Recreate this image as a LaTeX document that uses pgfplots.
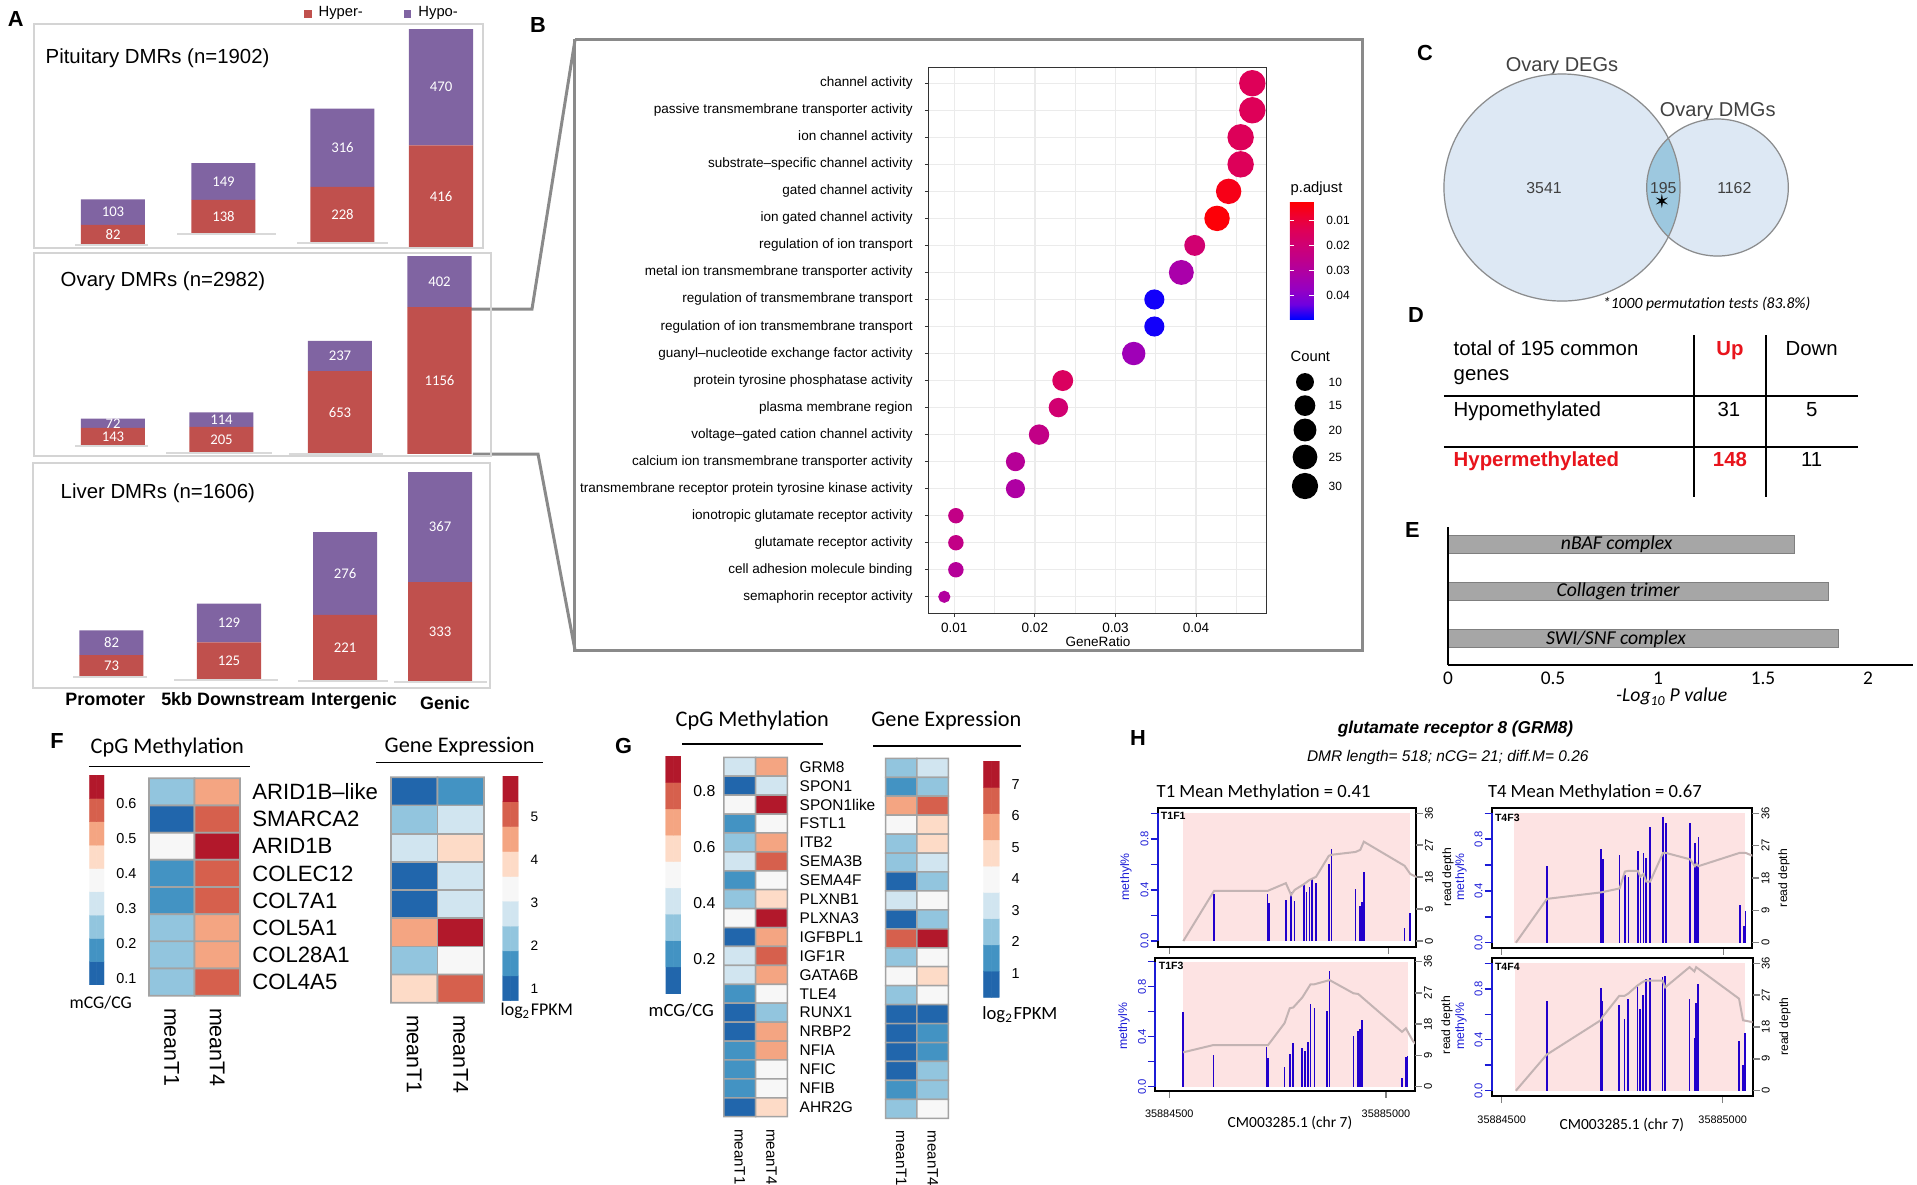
\documentclass[border=0pt]{standalone}
\usepackage{fontspec}
\setmainfont{Liberation Sans}
\newfontfamily\calfont{Carlito}
\newfontfamily\djv{DejaVu Sans}
\usepackage{pgfplots}
\usepackage{pgfplotstable}
\pgfplotsset{compat=1.18}
\newcommand\fs[1]{\fontsize{#1}{#1}\selectfont}

\definecolor{hyper}{HTML}{C0504D}
\definecolor{hypo}{HTML}{8064A2}
\definecolor{aframe}{HTML}{D4D4D4}
\definecolor{abase}{HTML}{D9D9D9}
\definecolor{bframe}{HTML}{8A8A8A}
\definecolor{gridc}{HTML}{EBEBEB}
\definecolor{venngray}{HTML}{8C8C8C}
\definecolor{vennfill}{HTML}{DDE8F4}
\definecolor{lensfill}{HTML}{9DC8DF}
\definecolor{venntext}{HTML}{404040}
\definecolor{tred}{HTML}{E8141C}
\definecolor{barg}{HTML}{A6A6A6}
\definecolor{baredge}{HTML}{7F7F7F}
\definecolor{cellgray}{HTML}{A3A3A3}
\definecolor{hblue}{HTML}{2200CC}
\definecolor{axblue}{HTML}{1C1CD6}
\definecolor{hpink}{HTML}{FDE3E3}
\definecolor{hdepth}{HTML}{C3B3B3}

\tikzset{slab/.style={anchor=west, font=\bfseries\fs{3.0}, inner sep=0pt}}

\pgfplotsset{
  colormap={padj}{rgb255=(255,0,0) rgb255=(239,0,48) rgb255=(222,0,88) rgb255=(207,0,116)
    rgb255=(190,0,140) rgb255=(171,0,168) rgb255=(149,0,195) rgb255=(112,0,223) rgb255=(0,0,255)},
  colormap={rdbu}{rgb255=(33,102,172) rgb255=(67,147,195) rgb255=(146,197,222)
    rgb255=(209,229,240) rgb255=(247,247,247) rgb255=(253,219,199) rgb255=(244,165,130)
    rgb255=(214,96,77) rgb255=(178,24,43)},
  canvas/.style={at={(0mm,0mm)}, anchor=north west, scale only axis, width=191.7mm, height=118.4mm,
    xmin=0, xmax=1917, ymin=0, ymax=1184, y dir=reverse, hide axis, clip=false,
    /tikz/every node/.append style={inner sep=0pt}},
  abar/.style={anchor=north west, scale only axis, ybar stacked, bar width=64,
    xtick=\empty, ytick=\empty, axis line style={draw=aframe, line width=0.2mm}, axis on top},
  alab/.style={anchor=north west, scale only axis, hide axis, clip=false},
  nnc/.style={draw=none, mark=none, nodes near coords, point meta=explicit symbolic,
    nodes near coords style={anchor=center, text=white, font=\calfont\fs{4.2}, inner sep=0pt}},
  abl/.style={abase, line width=0.13mm},
  hm/.style={anchor=north west, scale only axis, y dir=reverse, axis line style={draw=none},
    major tick length=0pt, colormap name=rdbu, colormap access=piecewise constant,
    xmin=-0.5, xmax=1.5, ymin=0.5, clip=false, xtick={0,1}, xticklabels={meanT1,meanT4},
    xticklabel style={rotate=-90, anchor=west}, ytick=\empty},
  cb/.style={anchor=north west, scale only axis, y dir=reverse, axis line style={draw=none},
    major tick length=0pt, colormap name=rdbu, colormap access=piecewise constant,
    xmin=-0.5, xmax=1.5, xtick=\empty, yticklabel pos=right},
  cell/.style={matrix plot, mesh/cols=2, point meta=explicit, shader=faceted,
    faceted color=cellgray, line width=0.17mm},
  cbcell/.style={matrix plot, mesh/cols=2, point meta=explicit, shader=faceted,
    faceted color=mapped color, line width=0.05mm},
  hbase/.style={anchor=north west, scale only axis, clip mode=individual, tick align=outside,
    major tick length=0.7mm, tick style={line width=0.15mm}, ticklabel style={font=\fs{3.2}},
    yticklabel style={inner sep=0.4pt}},
  hmeth/.style={hbase, axis line style={line width=0.2mm}, xtick={0,500}, xtick pos=bottom,
    ytick pos=left, ytick={0,0.2,0.4,0.6,0.8,1}, yticklabels={0.0,,0.4,,0.8,},
    ytick style={axblue}, yticklabel style={rotate=90, anchor=south, text=axblue},
    xticklabel style={font=\fs{3.1}}},
  hdep/.style={hbase, axis line style={draw=none}, xtick=\empty, ytick pos=right,
    yticklabel pos=right, ytick={0,9,18,27,36}, yticklabels={0,9,18,27,36},
    yticklabel style={rotate=90, anchor=north}},
}

% ---------------- data
\pgfplotstableread{
x off red pur
113 12 82 103
223.5 57 138 149
342.5 20 228 316
441 0 416 470
}\pit
\pgfplotstableread{
x off red pur
113 79 143 72
221.5 24 205 114
340 16 653 237
439.5 16 1156 402
}\ova
\pgfplotstableread{
x off red pur
111.5 37 73 82
229 27 125 129
345 23 221 276
440 20 333 367
}\liv

\pgfplotstableread{
row gr d p
1 0.04699 25 0.0139
2 0.04699 25 0.0139
3 0.04554 25 0.0142
4 0.04554 25 0.0142
5 0.04405 24 0.0050
6 0.04261 24 0.0030
7 0.03984 19.5 0.0192
8 0.03818 23.5 0.0320
9 0.03483 18.7 0.0484
10 0.03483 18.7 0.0484
11 0.03227 22 0.0349
12 0.02346 19.5 0.0154
13 0.02292 18 0.0192
14 0.02052 19 0.0243
15 0.01759 17.7 0.0281
16 0.01759 17.7 0.0305
17 0.0102 14 0.0243
18 0.0102 14 0.0243
19 0.0102 14 0.0285
20 0.00876 10.7 0.0295
}\godata
\pgfplotstableread{
x y d c
1305 382 16.5 10
1305 405.6 19.3 15
1305 430 21.5 20
1305 457 23.3 25
1305 486 24.8 30
}\cntleg

\pgfplotstableread{
x y v
0 1 0.25
1 1 0.52
0 2 0.11
1 2 0.58
0 3 0.38
1 3 0.65
0 4 0.18
1 4 0.58
0 5 0.18
1 5 0.57
0 6 0.24
1 6 0.53
0 7 0.25
1 7 0.51
0 8 0.24
1 8 0.59
}\Fm
\pgfplotstableread{
x y v
0 1 1.0
1 1 1.6
0 2 2.1
1 2 2.8
0 3 2.7
1 3 3.9
0 4 0.95
1 4 2.75
0 5 0.9
1 5 2.8
0 6 4.5
1 6 5.7
0 7 2.2
1 7 3.3
0 8 3.9
1 8 5.1
}\Fe
\pgfplotstableread{
x y v
0 1 0.41
1 1 0.69
0 2 0.13
1 2 0.40
0 3 0.50
1 3 0.88
0 4 0.22
1 4 0.50
0 5 0.31
1 5 0.68
0 6 0.41
1 6 0.78
0 7 0.22
1 7 0.49
0 8 0.32
1 8 0.60
0 9 0.51
1 9 0.87
0 10 0.12
1 10 0.69
0 11 0.40
1 11 0.79
0 12 0.41
1 12 0.70
0 13 0.23
1 13 0.50
0 14 0.12
1 14 0.31
0 15 0.13
1 15 0.68
0 16 0.22
1 16 0.69
0 17 0.21
1 17 0.50
0 18 0.22
1 18 0.51
0 19 0.12
1 19 0.59
}\Gm
\pgfplotstableread{
x y v
0 1 2.3
1 1 3.1
0 2 1.5
1 2 2.3
0 3 5.7
1 3 6.5
0 4 4.0
1 4 4.8
0 5 2.3
1 5 4.8
0 6 2.4
1 6 3.2
0 7 0.7
1 7 2.3
0 8 3.1
1 8 4.0
0 9 0.6
1 9 2.4
0 10 6.5
1 10 7.3
0 11 2.3
1 11 4.0
0 12 3.9
1 12 4.8
0 13 2.3
1 13 4.0
0 14 0.6
1 14 0.7
0 15 0.7
1 15 1.5
0 16 0.6
1 16 1.5
0 17 0.7
1 17 2.3
0 18 1.5
1 18 2.3
0 19 2.3
1 19 4.0
}\Ge
% colour keys: bin centres v, drawn at y = -v on a reversed axis (high values on top)
\pgfplotstableread{
x y v
0 -0.1143 0.1143
1 -0.1143 0.1143
0 -0.1810 0.1810
1 -0.1810 0.1810
0 -0.2477 0.2477
1 -0.2477 0.2477
0 -0.3143 0.3143
1 -0.3143 0.3143
0 -0.3810 0.3810
1 -0.3810 0.3810
0 -0.4477 0.4477
1 -0.4477 0.4477
0 -0.5143 0.5143
1 -0.5143 0.5143
0 -0.5810 0.5810
1 -0.5810 0.5810
0 -0.6477 0.6477
1 -0.6477 0.6477
}\cbFm
\pgfplotstableread{
x y v
0 -1.001 1.001
1 -1.001 1.001
0 -1.583 1.583
1 -1.583 1.583
0 -2.165 2.165
1 -2.165 2.165
0 -2.748 2.748
1 -2.748 2.748
0 -3.330 3.330
1 -3.330 3.330
0 -3.912 3.912
1 -3.912 3.912
0 -4.494 4.494
1 -4.494 4.494
0 -5.077 5.077
1 -5.077 5.077
0 -5.659 5.659
1 -5.659 5.659
}\cbFe
\pgfplotstableread{
x y v
0 -0.1259 0.1259
1 -0.1259 0.1259
0 -0.2197 0.2197
1 -0.2197 0.2197
0 -0.3136 0.3136
1 -0.3136 0.3136
0 -0.4074 0.4074
1 -0.4074 0.4074
0 -0.5012 0.5012
1 -0.5012 0.5012
0 -0.5951 0.5951
1 -0.5951 0.5951
0 -0.6889 0.6889
1 -0.6889 0.6889
0 -0.7827 0.7827
1 -0.7827 0.7827
0 -0.8766 0.8766
1 -0.8766 0.8766
}\cbGm
\pgfplotstableread{
x y v
0 -0.6548 0.6548
1 -0.6548 0.6548
0 -1.4884 1.4884
1 -1.4884 1.4884
0 -2.3220 2.3220
1 -2.3220 2.3220
0 -3.1556 3.1556
1 -3.1556 3.1556
0 -3.9892 3.9892
1 -3.9892 3.9892
0 -4.8228 4.8228
1 -4.8228 4.8228
0 -5.6564 5.6564
1 -5.6564 5.6564
0 -6.4900 6.4900
1 -6.4900 6.4900
0 -7.3236 7.3236
1 -7.3236 7.3236
}\cbGe

\pgfplotstableread{
pos m11 m13 m43 m44
32 nan 0.595 nan nan
102 0.368 0.253 0.593 0.704
224 0.366 0.320 0.722 0.804
228 0.295 0.232 0.647 0.704
266 0.321 0.155 0.675 0.673
278 0.386 0.261 0.523 0.560
286 0.313 0.347 0.510 0.720
307 0.439 0.307 0.709 0.830
313 0.386 0.288 0.510 0.639
320 0.426 0.360 0.691 0.749
326 0.491 0.661 0.657 0.877
335 0.452 0.629 0.892 0.882
364 0.600 0.608 0.969 0.895
370 0.718 0.928 0.928 0.903
425 0.407 0.405 0.923 0.720
436 0.277 0.445 0.773 0.411
440 0.305 0.459 0.590 0.691
444 0.543 0.533 0.820 0.835
537 0.099 0.067 0.289 0.390
546 nan 0.240 0.129 0.200
550 0.217 0.248 0.247 0.455
}\hmeth
\pgfplotstableread{
pos d
32 0
102 14.1
224 14.1
266 16.3
278 13.0
286 14.4
307 16.0
320 17.2
335 18.1
364 24.0
370 24.3
425 25.1
436 25.7
444 28.0
537 21.2
550 18.9
590 16.5
}\dA
\pgfplotstableread{
pos d
32 9.9
102 12.0
228 12.0
266 18.3
278 22.6
286 22.8
307 25.7
326 29.5
335 29.5
370 30.7
425 26.9
436 26.7
537 15.8
546 16.8
563 13.0
580 11.0
}\dB
\pgfplotstableread{
pos d
32 0
102 12.2
224 14.0
266 15.1
278 19.8
286 20.0
307 20.0
313 18.4
320 19.1
326 17.0
335 17.0
364 25.0
370 25.0
425 23.2
436 21.3
440 22.0
444 21.3
537 25.0
550 25.0
580 23.5
}\dC
\pgfplotstableread{
pos d
32 0
102 10.2
224 19.9
228 20.8
266 26.8
278 26.8
286 27.4
307 29.7
320 30.8
326 31.1
364 31.1
370 29.2
425 34.9
436 33.7
440 34.9
537 26.0
546 19.9
570 19.3
580 19.0
}\dD

\begin{document}
\begin{tikzpicture}[x=0.1mm,y=-0.1mm]

%% ================= canvas: labels, table, frames (pixel coordinates, y down)
\begin{axis}[canvas]
  % panel letters
  \node[font=\bfseries\fs{6.2}] at (15.8,19.2) {A};
  \node[font=\bfseries\fs{6.2}] at (538,24.5) {B};
  \node[font=\bfseries\fs{6.2}] at (1425,53.3) {C};
  \node[font=\bfseries\fs{6.2}] at (1416,314.7) {D};
  \node[font=\bfseries\fs{6.2}] at (1412.5,530) {E};
  \node[font=\bfseries\fs{6.2}] at (57,741) {F};
  \node[font=\bfseries\fs{6.2}] at (623.5,746) {G};
  \node[font=\bfseries\fs{6.2}] at (1138,738.3) {H};

  % A texts
  \node[anchor=base west, font=\fs{5.8}] at (45,63) {Pituitary DMRs (n=1902)};
  \node[anchor=base west, font=\fs{5.8}] at (60,286.7) {Ovary DMRs (n=2982)};
  \node[anchor=base west, font=\fs{5.8}] at (60,498.3) {Liver DMRs (n=1606)};
  \node[anchor=base, font=\bfseries\fs{5.1}] at (105.3,705) {Promoter};
  \node[anchor=base, font=\bfseries\fs{5.1}] at (233,705) {5kb Downstream};
  \node[anchor=base, font=\bfseries\fs{5.1}] at (354,705) {Intergenic};
  \node[anchor=base, font=\bfseries\fs{5.1}] at (445,709) {Genic};

  % A -> B connectors and B frame
  \addplot[bframe, line width=0.3mm] coordinates {(470,309) (532,309) (575,40)};
  \addplot[bframe, line width=0.3mm] coordinates {(473,454) (538,454) (575,650)};
  \addplot[bframe, line width=0.3mm, line join=miter] coordinates {(575,39) (1363,39) (1363,650) (575,650) (575,39)};

  % B legend texts
  \node[anchor=base west, font=\fs{4.2}] at (1290,192) {p.adjust};
  \node[anchor=base west, font=\fs{4.2}] at (1290,361) {Count};
  \addplot[scatter, only marks, mark=*, point meta=explicit,
    scatter/use mapped color={draw=black, fill=black},
    visualization depends on={\thisrow{d}\as\dsize},
    scatter/@pre marker code/.append style={/tikz/mark size={\dsize*0.05mm}}]
    table[x=x, y=y, meta=c] {\cntleg};
  \node[anchor=west, font=\fs{3.4}] at (1328,382) {10};
  \node[anchor=west, font=\fs{3.4}] at (1328,405.6) {15};
  \node[anchor=west, font=\fs{3.4}] at (1328,430) {20};
  \node[anchor=west, font=\fs{3.4}] at (1328,457) {25};
  \node[anchor=west, font=\fs{3.4}] at (1328,486) {30};
  \node[anchor=base, font=\fs{3.85}] at (1098,646.7) {GeneRatio};

  % C Venn: filled sets
  \addplot[only marks, mark=*, mark size=11.35mm,
    mark options={xscale=1.04, fill=vennfill, draw=vennfill}] coordinates {(1562,187.5)};
  \addplot[only marks, mark=*, mark size=6.85mm,
    mark options={xscale=1.034, fill=vennfill, draw=vennfill}] coordinates {(1717.5,187.5)};
  \node[anchor=base, font=\fs{5.7}, text=venntext] at (1562,71.7) {Ovary DEGs};
  \node[anchor=base, font=\fs{5.7}, text=venntext] at (1717.7,116.7) {Ovary DMGs};
  \node[anchor=base, font=\calfont\itshape\fs{4.45}] at (1706.7,308.3) {*1000 permutation tests (83.8\%)};

  % D table
  \addplot[black, line width=0.2mm] coordinates {(1694.3,335) (1694.3,497)};
  \addplot[black, line width=0.2mm] coordinates {(1766,335) (1766,497)};
  \addplot[black, line width=0.2mm] coordinates {(1444,395.7) (1857.7,395.7)};
  \addplot[black, line width=0.2mm] coordinates {(1444,446.7) (1857.7,446.7)};
  \node[anchor=base west, font=\fs{5.8}] at (1453,355) {total of 195 common};
  \node[anchor=base west, font=\fs{5.8}] at (1453,380) {genes};
  \node[anchor=base, font=\bfseries\fs{5.8}, text=tred] at (1730,355) {Up};
  \node[anchor=base, font=\fs{5.8}] at (1811.7,355) {Down};
  \node[anchor=base west, font=\fs{5.8}] at (1453,416) {Hypomethylated};
  \node[anchor=base, font=\fs{5.8}] at (1729,416) {31};
  \node[anchor=base, font=\fs{5.8}] at (1811.7,416) {5};
  \node[anchor=base west, font=\bfseries\fs{5.8}, text=tred] at (1453,466.7) {Hypermethylated};
  \node[anchor=base, font=\bfseries\fs{5.8}, text=tred] at (1730,466.7) {148};
  \node[anchor=base, font=\fs{5.8}] at (1811.7,466.7) {11};

  % E axis title
  \node[anchor=base, font=\calfont\itshape\fs{5.6}] at (1671.7,701.7) {-Log\textsubscript{10}\,P value};

  % F, G headers
  \node[anchor=base west, font=\calfont\fs{6.35}] at (90,753) {CpG Methylation};
  \addplot[black, line width=0.15mm] coordinates {(89,766.7) (250,766.7)};
  \node[anchor=base west, font=\calfont\fs{6.35}] at (384,752.7) {Gene Expression};
  \addplot[black, line width=0.15mm] coordinates {(376,762.7) (543,762.7)};
  \node[anchor=base west, font=\calfont\fs{5.05}] at (69,1008.3) {mCG/CG};
  \node[anchor=base west, font=\calfont\fs{5.1}] at (500,1015) {log\textsubscript{2}FPKM};
  \node[anchor=base west, font=\calfont\fs{6.35}] at (675,726) {CpG Methylation};
  \addplot[black, line width=0.15mm] coordinates {(682.3,744) (823.3,744)};
  \node[anchor=base west, font=\calfont\fs{6.35}] at (870.7,726) {Gene Expression};
  \addplot[black, line width=0.15mm] coordinates {(873.3,746) (1021,746)};
  \node[anchor=base west, font=\calfont\fs{5.3}] at (648,1016.7) {mCG/CG};
  \node[anchor=base west, font=\calfont\fs{5.3}] at (981.7,1019.3) {log\textsubscript{2}FPKM};

  % H texts
  \node[anchor=base, font=\bfseries\itshape\fs{4.9}] at (1455.5,733.3) {glutamate receptor 8 (GRM8)};
  \node[anchor=base, font=\itshape\fs{4.4}] at (1447.8,761) {DMR length= 518; nCG= 21; diff.M= 0.26};
  \node[anchor=base west, font=\calfont\fs{5.3}] at (1156,797.3) {T1 Mean Methylation = 0.41};
  \node[anchor=base west, font=\calfont\fs{5.3}] at (1487.3,797.3) {T4 Mean Methylation = 0.67};
  \node[rotate=90, font=\fs{3.5}, text=axblue] at (1126,876.7) {methyl\%};
  \node[rotate=90, font=\fs{3.5}, text=axblue] at (1124,1026) {methyl\%};
  \node[rotate=90, font=\fs{3.5}, text=axblue] at (1461,876.7) {methyl\%};
  \node[rotate=90, font=\fs{3.5}, text=axblue] at (1461,1026) {methyl\%};
  \node[rotate=90, font=\fs{3.45}] at (1448,877) {read depth};
  \node[rotate=90, font=\fs{3.45}] at (1447,1025) {read depth};
  \node[rotate=90, font=\fs{3.45}] at (1784,878) {read depth};
  \node[rotate=90, font=\fs{3.45}] at (1785,1026.7) {read depth};
  \node[anchor=base, font=\calfont\fs{4.4}] at (1290,1127.3) {CM003285.1 (chr 7)};
  \node[anchor=base, font=\calfont\fs{4.4}] at (1621.8,1129.3) {CM003285.1 (chr 7)};
\end{axis}

% Venn overlap (lens) on top of the two filled sets
\begin{scope}
  \clip (1562,187.5) ellipse [x radius=118, y radius=113.5];
  \fill[lensfill] (1717.5,187.5) ellipse [x radius=70.8, y radius=68.5];
\end{scope}
\begin{axis}[canvas]
  \addplot[only marks, mark=o, mark size=11.35mm,
    mark options={xscale=1.04, draw=venngray, line width=0.12mm}] coordinates {(1562,187.5)};
  \addplot[only marks, mark=o, mark size=6.85mm,
    mark options={xscale=1.034, draw=venngray, line width=0.12mm}] coordinates {(1717.5,187.5)};
  \node[anchor=base, font=\fs{4.5}, text=venntext] at (1544,193.3) {3541};
  \node[anchor=base, font=\fs{4.5}, text=venntext] at (1663.3,193.3) {195};
  \node[anchor=base, font=\fs{4.5}, text=venntext] at (1734.3,193.3) {1162};
  \node[font=\djv\fs{5.5}] at (1662,201) {✶};
\end{axis}

%% ================= A: stacked bars
\begin{axis}[abar, at={(3.4mm,-2.4mm)}, width=44.9mm, height=22.4mm, xmin=34, xmax=483, ymin=0, ymax=907,
  legend columns=2,
  legend style={at={(0.6,1.115)}, anchor=north west, draw=none, fill=none, font=\fs{4.2},
    inner sep=0pt, /tikz/every even column/.append style={column sep=3.4mm}},
  legend image code/.code={\fill[#1] (0mm,-0.4mm) rectangle (0.75mm,0.4mm);}]
  \addplot[draw=none, fill=none, forget plot] table[x=x, y=off] {\pit};
  \addplot[fill=hyper, draw=none] table[x=x, y=red] {\pit};
  \addlegendentry{Hyper-}
  \addplot[fill=hypo, draw=none] table[x=x, y=pur] {\pit};
  \addlegendentry{Hypo-}
\end{axis}
\begin{axis}[alab, at={(3.4mm,-2.4mm)}, width=44.9mm, height=22.4mm, xmin=34, xmax=483, ymin=0, ymax=907]
  \addplot[abl] coordinates {(75,12) (148,12)};
  \addplot[abl] coordinates {(177,57) (276,57)};
  \addplot[abl] coordinates {(297,20) (388,20)};
  \addplot[nnc] table[x=x, y expr=\thisrow{off}+0.5*\thisrow{red}, meta=red] {\pit};
  \addplot[nnc] table[x=x, y expr=\thisrow{off}+\thisrow{red}+0.5*\thisrow{pur}, meta=pur] {\pit};
\end{axis}

\begin{axis}[abar, at={(3.4mm,-25.3mm)}, width=45.7mm, height=20.3mm, xmin=34, xmax=491, ymin=0, ymax=1598]
  \addplot[draw=none, fill=none] table[x=x, y=off] {\ova};
  \addplot[fill=hyper, draw=none] table[x=x, y=red] {\ova};
  \addplot[fill=hypo, draw=none] table[x=x, y=pur] {\ova};
\end{axis}
\begin{axis}[alab, at={(3.4mm,-25.3mm)}, width=45.7mm, height=20.3mm, xmin=34, xmax=491, ymin=0, ymax=1598]
  \addplot[abl] coordinates {(75,79) (148,79)};
  \addplot[abl] coordinates {(166,24) (272,24)};
  \addplot[abl] coordinates {(289,16) (383,16)};
  \addplot[nnc] table[x=x, y expr=\thisrow{off}+0.5*\thisrow{red}, meta=red] {\ova};
  \addplot[nnc] table[x=x, y expr=\thisrow{off}+\thisrow{red}+0.5*\thisrow{pur}, meta=pur] {\ova};
\end{axis}

\begin{axis}[abar, at={(3.3mm,-46.3mm)}, width=45.7mm, height=22.5mm, xmin=33, xmax=490, ymin=0, ymax=750]
  \addplot[draw=none, fill=none] table[x=x, y=off] {\liv};
  \addplot[fill=hyper, draw=none] table[x=x, y=red] {\liv};
  \addplot[fill=hypo, draw=none] table[x=x, y=pur] {\liv};
\end{axis}
\begin{axis}[alab, at={(3.3mm,-46.3mm)}, width=45.7mm, height=22.5mm, xmin=33, xmax=490, ymin=0, ymax=750]
  \addplot[abl] coordinates {(73,37) (147,37)};
  \addplot[abl] coordinates {(174,27) (278,27)};
  \addplot[abl] coordinates {(298,23) (388,23)};
  \addplot[abl] coordinates {(394,20) (487,20)};
  \addplot[nnc] table[x=x, y expr=\thisrow{off}+0.5*\thisrow{red}, meta=red] {\liv};
  \addplot[nnc] table[x=x, y expr=\thisrow{off}+\thisrow{red}+0.5*\thisrow{pur}, meta=pur] {\liv};
\end{axis}

%% ================= B: GO dot plot
\begin{axis}[anchor=north west, at={(92.9mm,-6.7mm)}, scale only axis, width=33.8mm, height=54.6mm,
  xmin=0.00686, xmax=0.04881, ymin=0.4, ymax=20.6, y dir=reverse,
  xtick={0.01,0.02,0.03,0.04}, xticklabels={0.01,0.02,0.03,0.04}, scaled x ticks=false,
  minor xtick={0.015,0.025,0.035,0.045},
  ytick={1,...,20},
  yticklabels={channel activity, passive transmembrane transporter activity, ion channel activity,
    substrate–specific channel activity, gated channel activity, ion gated channel activity,
    regulation of ion transport, metal ion transmembrane transporter activity,
    regulation of transmembrane transport, regulation of ion transmembrane transport,
    guanyl–nucleotide exchange factor activity, protein tyrosine phosphatase activity,
    plasma membrane region, voltage–gated cation channel activity,
    calcium ion transmembrane transporter activity,
    transmembrane receptor protein tyrosine kinase activity,
    ionotropic glutamate receptor activity, glutamate receptor activity,
    cell adhesion molecule binding, semaphorin receptor activity},
  grid=both, major grid style={gridc, line width=0.13mm}, minor grid style={gridc, line width=0.07mm},
  xtick pos=bottom, ytick pos=left, tick align=outside, major tick length=0.4mm, minor tick length=0pt,
  tick style={black!80, line width=0.1mm}, axis line style={black!80, line width=0.1mm},
  ticklabel style={font=\fs{3.85}}, xticklabel style={yshift=0.6mm},
  colormap name=padj, point meta min=0.00216, point meta max=0.0493,
  colorbar,
  colorbar style={at={(parent axis.north east)}, anchor=north west, xshift=-0.7mm, yshift=-13.4mm,
    scale only axis, width=2.4mm, height=11.8mm, y dir=reverse, scaled y ticks=false,
    ytick={0.01,0.02,0.03,0.04}, yticklabels={0.01,0.02,0.03,0.04},
    yticklabel style={font=\fs{3.4}}, axis line style={draw=none},
    tick align=inside, major tick length=0.45mm, ytick style={white, line width=0.12mm}}]
  \addplot[scatter, only marks, mark=*, point meta=explicit,
    scatter/use mapped color={draw=mapped color, fill=mapped color},
    visualization depends on={\thisrow{d}\as\dsize},
    scatter/@pre marker code/.append style={/tikz/mark size={\dsize*0.05mm}}]
    table[x=gr, y=row, meta=p] {\godata};
\end{axis}

%% ================= E: enrichment bars
\begin{axis}[anchor=north west, at={(144.8mm,-52.7mm)}, scale only axis, width=46.5mm, height=13.8mm,
  xmin=0, xmax=2.214, ymin=0.445, ymax=3.371, xbar, bar width=1.77mm,
  axis x line*=bottom, axis y line*=left, axis line style={black, line width=0.22mm},
  ytick=\empty, xtick={0,0.5,1,1.5,2}, xticklabels={0,0.5,1,1.5,2}, major tick length=0pt,
  xticklabel style={font=\calfont\fs{5.5}, yshift=0.5mm}, axis on top, clip=false]
  \addplot[fill=barg, draw=baredge, line width=0.1mm] coordinates {(1.65,3) (1.81,2) (1.86,1)};
  \node[font=\calfont\itshape\fs{5.6}] at (axis cs:0.803,3) {nBAF complex};
  \node[font=\calfont\itshape\fs{5.6}] at (axis cs:0.81,2) {Collagen trimer};
  \node[font=\calfont\itshape\fs{5.6}] at (axis cs:0.8,1) {SWI/SNF complex};
\end{axis}

%% ================= F: heatmaps
\begin{axis}[hm, at={(14.9mm,-77.83mm)}, width=9.1mm, height=21.74mm, ymax=8.5,
  point meta min=0.081, point meta max=0.681,
  ytick={1,...,8}, yticklabels={ARID1B–like,SMARCA2,ARID1B,COLEC12,COL7A1,COL5A1,COL28A1,COL4A5},
  yticklabel pos=right, yticklabel style={font=\fs{6.3}}, xticklabel style={font=\fs{6.1}}]
  \addplot[cell] table[meta=v] {\Fm};
\end{axis}
\begin{axis}[cb, at={(8.93mm,-77.5mm)}, width=1.47mm, height=21mm, ymin=-0.681, ymax=-0.081,
  point meta min=0.081, point meta max=0.681,
  ytick={-0.6,-0.5,-0.4,-0.3,-0.2,-0.1}, yticklabels={0.6,0.5,0.4,0.3,0.2,0.1},
  yticklabel style={font=\fs{4.1}}]
  \addplot[cbcell] table[meta=v] {\cbFm};
\end{axis}
\begin{axis}[hm, at={(39.1mm,-77.73mm)}, width=9.3mm, height=22.54mm, ymax=8.5,
  point meta min=0.71, point meta max=5.95, xticklabel style={font=\fs{6.1}}]
  \addplot[cell] table[meta=v] {\Fe};
\end{axis}
\begin{axis}[cb, at={(50.27mm,-77.67mm)}, width=1.56mm, height=22.4mm, ymin=-5.95, ymax=-0.71,
  point meta min=0.71, point meta max=5.95,
  ytick={-5,-4,-3,-2,-1}, yticklabels={5,4,3,2,1}, yticklabel style={font=\fs{3.9}}]
  \addplot[cbcell] table[meta=v] {\cbFe};
\end{axis}

%% ================= G: heatmaps
\begin{axis}[hm, at={(72.4mm,-75.73mm)}, width=6.33mm, height=35.94mm, ymax=19.5,
  point meta min=0.079, point meta max=0.9235,
  ytick={1,...,19}, yticklabels={GRM8,SPON1,SPON1like,FSTL1,ITB2,SEMA3B,SEMA4F,PLXNB1,PLXNA3,
    IGFBPL1,IGF1R,GATA6B,TLE4,RUNX1,NRBP2,NFIA,NFIC,NFIB,AHR2G},
  yticklabel pos=right, yticklabel style={font=\fs{4.4}}, xticklabel style={font=\fs{4.3}}]
  \addplot[cell, line width=0.15mm] table[meta=v] {\Gm};
\end{axis}
\begin{axis}[cb, at={(66.57mm,-75.6mm)}, width=1.53mm, height=23.73mm, ymin=-0.9235, ymax=-0.079,
  point meta min=0.079, point meta max=0.9235,
  ytick={-0.8,-0.6,-0.4,-0.2}, yticklabels={0.8,0.6,0.4,0.2}, yticklabel style={font=\fs{4.5}}]
  \addplot[cbcell] table[meta=v] {\cbGm};
\end{axis}
\begin{axis}[hm, at={(88.57mm,-75.83mm)}, width=6.26mm, height=36mm, ymax=19.5,
  point meta min=0.238, point meta max=7.74, xticklabel style={font=\fs{4.3}}]
  \addplot[cell, line width=0.15mm] table[meta=v] {\Ge};
\end{axis}
\begin{axis}[cb, at={(98.33mm,-76.1mm)}, width=1.6mm, height=23.63mm, ymin=-7.74, ymax=-0.238,
  point meta min=0.238, point meta max=7.74,
  ytick={-7,-6,-5,-4,-3,-2,-1}, yticklabels={7,6,5,4,3,2,1}, yticklabel style={font=\fs{4.1}}]
  \addplot[cbcell] table[meta=v] {\cbGe};
\end{axis}

%% ================= H: methylation tracks
% T1F1
\begin{axis}[hmeth, at={(115.77mm,-80.83mm)}, width=25.83mm, height=13.84mm,
  xmin=-26.5, xmax=563, ymin=-0.0446, ymax=1.039, xticklabels={,}]
  \addplot[fill=hpink, draw=none] coordinates {(32,0) (550,0) (550,1) (32,1)};
  \addplot[ycomb, hblue, line width=0.17mm] table[x=pos, y=m11] {\hmeth};
  \draw[axblue, line width=0.2mm] (axis cs:-26.5,0) -- (axis cs:-26.5,1);
  \node[slab] at (rel axis cs:0.01,0.947) {T1F1};
\end{axis}
\begin{axis}[hdep, at={(115.77mm,-80.83mm)}, width=25.83mm, height=13.84mm,
  xmin=-26.5, xmax=563, ymin=-1.606, ymax=37.40]
  \addplot[hdepth, line width=0.2mm] table[x=pos, y=d] {\dA};
\end{axis}
% T1F3
\begin{axis}[hmeth, at={(115.5mm,-95.83mm)}, width=26.0mm, height=13.24mm,
  xmin=-33, xmax=567, ymin=-0.032, ymax=1.027, xticklabels={35884500,35885000}]
  \addplot[fill=hpink, draw=none] coordinates {(32,0) (550,0) (550,1) (32,1)};
  \addplot[ycomb, hblue, line width=0.17mm] table[x=pos, y=m13] {\hmeth};
  \draw[axblue, line width=0.2mm] (axis cs:-33,0) -- (axis cs:-33,1);
  \node[slab] at (rel axis cs:0.012,0.94) {T1F3};
\end{axis}
\begin{axis}[hdep, at={(115.5mm,-95.83mm)}, width=26.0mm, height=13.24mm,
  xmin=-33, xmax=567, ymin=-1.152, ymax=36.97]
  \addplot[hdepth, line width=0.2mm] table[x=pos, y=d] {\dB};
\end{axis}
% T4F3
\begin{axis}[hmeth, at={(149.17mm,-80.83mm)}, width=26.06mm, height=13.94mm,
  xmin=-22.6, xmax=565.4, ymin=-0.0386, ymax=1.0386, xticklabels={,}]
  \addplot[fill=hpink, draw=none] coordinates {(28,0) (550,0) (550,1) (28,1)};
  \addplot[ycomb, hblue, line width=0.17mm] table[x=pos, y=m43] {\hmeth};
  \draw[axblue, line width=0.2mm] (axis cs:-22.6,0) -- (axis cs:-22.6,1);
  \node[slab] at (rel axis cs:0.01,0.93) {T4F3};
\end{axis}
\begin{axis}[hdep, at={(149.17mm,-80.83mm)}, width=26.06mm, height=13.94mm,
  xmin=-22.6, xmax=565.4, ymin=-1.39, ymax=37.39]
  \addplot[hdepth, line width=0.2mm] table[x=pos, y=d] {\dC};
\end{axis}
% T4F4
\begin{axis}[hmeth, at={(149.17mm,-95.83mm)}, width=26.1mm, height=13.77mm,
  xmin=-22.6, xmax=567.9, ymin=-0.0416, ymax=1.039, xticklabels={35884500,35885000}]
  \addplot[fill=hpink, draw=none] coordinates {(30,0) (550,0) (550,1) (30,1)};
  \addplot[ycomb, hblue, line width=0.17mm] table[x=pos, y=m44] {\hmeth};
  \draw[axblue, line width=0.2mm] (axis cs:-22.6,0) -- (axis cs:-22.6,1);
  \node[slab] at (rel axis cs:0.01,0.94) {T4F4};
\end{axis}
\begin{axis}[hdep, at={(149.17mm,-95.83mm)}, width=26.1mm, height=13.77mm,
  xmin=-22.6, xmax=567.9, ymin=-1.498, ymax=37.40]
  \addplot[hdepth, line width=0.2mm] table[x=pos, y=d] {\dD};
\end{axis}

\pgfresetboundingbox
\path[use as bounding box] (0,0) rectangle (1917,1184);
\end{tikzpicture}
\end{document}
